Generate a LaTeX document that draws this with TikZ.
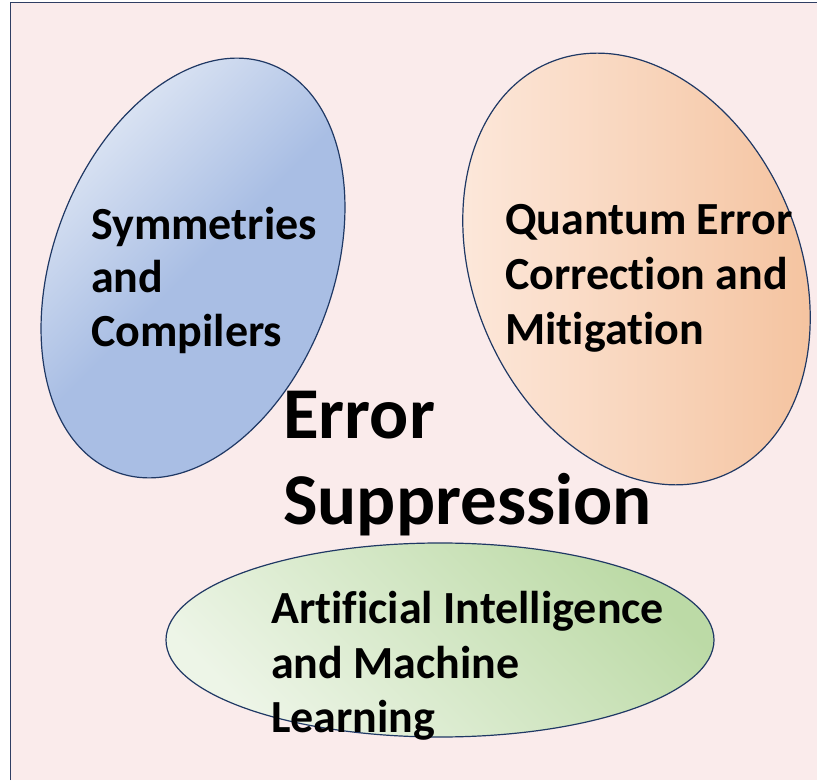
\documentclass[tikz,border=0pt]{standalone}
\usepackage{fontspec}
\setmainfont{Carlito}[Ligatures=CommonOff]
\definecolor{bgpink}{HTML}{FAEBEB}
\definecolor{frame}{HTML}{2F3E63}
\definecolor{edge}{HTML}{1F3864}
\definecolor{blueL}{HTML}{E2E9F5}
\definecolor{blueD}{HTML}{A9BEE4}
\definecolor{orL}{HTML}{FDEADE}
\definecolor{orD}{HTML}{F4C19C}
\definecolor{grL}{HTML}{EDF5E7}
\definecolor{grD}{HTML}{BCDAA6}
\tikzset{
  blob/.style={draw=edge, line width=1.2pt},
  lbl/.style={anchor=base west, inner sep=0pt, font=\fontsize{46}{55}\selectfont\bfseries},
  big/.style={anchor=base west, inner sep=0pt, font=\fontsize{73}{85}\selectfont\bfseries}
}
\begin{document}
\begin{tikzpicture}[x=1pt,y=1pt]
\useasboundingbox (0,0) rectangle (817,780);
\fill[bgpink] (10.5,0) rectangle (817,777.5);
\draw[frame, line width=1.5pt] (10.5,0) -- (10.5,777.5) -- (817,777.5);
% blue ellipse
\shade[blob, top color=blueL, bottom color=blueD, middle color=blueD, shading angle=45]
  (193,512) circle [x radius=218pt, y radius=140pt, rotate=69.3];
% orange ellipse
\shade[blob, left color=orL, right color=orD]
  (636.5,511) circle [x radius=224pt, y radius=163pt, rotate=113];
% green ellipse
\shade[blob, top color=grD, bottom color=grL, shading angle=-45]
  (440,140) circle [x radius=274pt, y radius=97pt];
% texts
\node[lbl] (s1) at (91,540) {Symmetries};
\node[lbl] (s2) at (91,487) {and};
\node[lbl] (s3) at (91,433) {Compilers};
\node[lbl] (q1) at (505,545) {Quantum Error};
\node[lbl] (q2) at (505,490) {Correction and};
\node[lbl] (q3) at (505,435) {Mitigation};
\node[lbl] (a1) at (271,157) {Artificial Intelligence};
\node[lbl] (a2) at (271,102) {and Machine};
\node[lbl] (a3) at (271,48) {Learning};
\node[big] (e1) at (283,341) {Error};
\node[big] (e2) at (283,255) {Suppression};
\end{tikzpicture}
\end{document}
